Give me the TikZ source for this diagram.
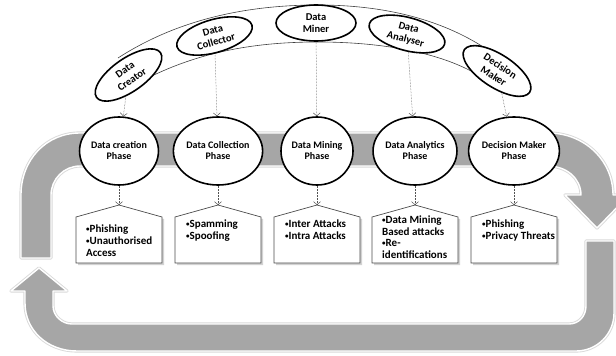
\documentclass[tikz,border=0pt]{standalone}
\usepackage{fontspec}
\setmainfont{Carlito}
\usetikzlibrary{shapes.geometric,arrows.meta}
\definecolor{bandgray}{HTML}{A6A6A6}
\newcommand{\bul}{{\fontsize{7}{7}\selectfont\raisebox{0.3ex}{•}}}
\begin{document}
\begin{tikzpicture}[x=1pt,y=-1pt,
  band/.style={preaction={draw=gray!30,line width=3.2pt,line join=round},
               fill=bandgray, draw=white, line width=1.4pt, line join=round},
  arcline/.style={draw=black!75, line width=0.6pt},
  actor/.style={ellipse, draw=black, line width=1.6pt, fill=white,
                minimum width=78pt, minimum height=33pt, inner sep=0pt,
                align=center, font=\fontsize{10.5}{12}\selectfont\bfseries},
  phase/.style={ellipse, draw=black, line width=1.6pt, fill=white,
                minimum width=72pt, minimum height=68pt, inner sep=0pt,
                align=center, font=\fontsize{10}{11}\selectfont\bfseries},
  conn/.style={densely dotted, draw=gray!65!black, line width=0.5pt,
               -{Straight Barb[length=3pt,width=7pt]}},
  boxline/.style={draw=black!70, line width=0.7pt, fill=white},
  boxshadow/.style={fill=gray!35},
  itemtext/.style={anchor=north west, inner sep=0pt, align=left,
                   font=\fontsize{11}{11.7}\selectfont\bfseries}
]
\useasboundingbox (0,0) rectangle (616,356);
% cycle bands
\path[band] (21,258) -- (21,195) .. controls (21,160) and (46,133) .. (80,133)
  -- (548,133) .. controls (584,133) and (613,160) .. (613,195)
  -- (629,195) -- (597,228) -- (565,195) -- (581,195)
  .. controls (581,178) and (566,166) .. (548,166)
  -- (80,166) .. controls (64,166) and (51,179) .. (51,195) -- (51,258) -- cycle;
\path[band] (586,241) -- (614,241) -- (614,313)
  .. controls (614,334) and (597,351) .. (576,351)
  -- (77,351) .. controls (47,351) and (25,330) .. (25,303)
  -- (25,291) -- (11,291) -- (39,268) -- (67,291) -- (53,291) -- (53,306)
  .. controls (53,316) and (62,324) .. (72,324)
  -- (569,324) .. controls (579,324) and (586,316) .. (586,306) -- cycle;
% actor arc
\draw[arcline] (118,58) .. controls (180,18) and (250,5) .. (318,5)
  .. controls (390,5) and (450,22) .. (495,55);
\draw[arcline] (140,82) .. controls (200,50) and (260,42) .. (318,42)
  .. controls (380,42) and (440,52) .. (478,75);
% actors
\node[actor, rotate=35] (creator) at (128.5,75) {Data\\Creator};
\node[actor, rotate=16] (collector) at (214.5,36) {Data\\Collector};
\node[actor, minimum width=80pt, minimum height=36pt] (miner) at (316,23) {Data\\Miner};
\node[actor, rotate=-15] (analyser) at (407,34) {Data\\Analyser};
\node[actor, rotate=-33] (decision) at (497,71) {Decision\\Maker};
% phases
\node[phase] (c1) at (119,151) {Data creation\\Phase};
\node[phase] (c2) at (218,151) {Data Collection\\Phase};
\node[phase] (c3) at (317,151) {Data Mining\\Phase};
\node[phase] (c4) at (415,151) {Data Analytics\\Phase};
\node[phase] (c5) at (514,151) {Decision Maker\\Phase};
% boxes
\foreach \x/\n in {119/1,218/2,317/3,415/4,514/5}{
  \path[boxshadow] (\x-41,219) -- (\x+2,207) -- (\x+45,219) -- (\x+45,265) -- (\x-41,265) -- cycle;
  \path[boxline] (\x-43,217) -- (\x,205) -- (\x+43,217) -- (\x+43,263) -- (\x-43,263) -- cycle;
  \coordinate (a\n) at (\x,205);
}
\node[itemtext] (t1) at (86,225) {\bul Phishing\\\bul Unauthorised\\Access};
\node[itemtext] (t2) at (186,220) {\bul Spamming\\\bul Spoofing};
\node[itemtext] (t3) at (285,219.5) {\bul Inter Attacks\\\bul Intra Attacks};
\node[itemtext] (t4) at (382,215.5) {\bul Data Mining\\Based attacks\\\bul Re-\\identifications};
\node[itemtext] (t5) at (482,219.5) {\bul Phishing\\\bul Privacy Threats};
% connectors
\draw[conn] (creator) -- (c1);
\draw[conn] (collector) -- (c2);
\draw[conn] (miner) -- (c3);
\draw[conn] (analyser) -- (c4);
\draw[conn] (decision) -- (c5);
\foreach \n in {1,...,5}{ \draw[conn] (c\n) -- (a\n); }
\end{tikzpicture}
\end{document}
